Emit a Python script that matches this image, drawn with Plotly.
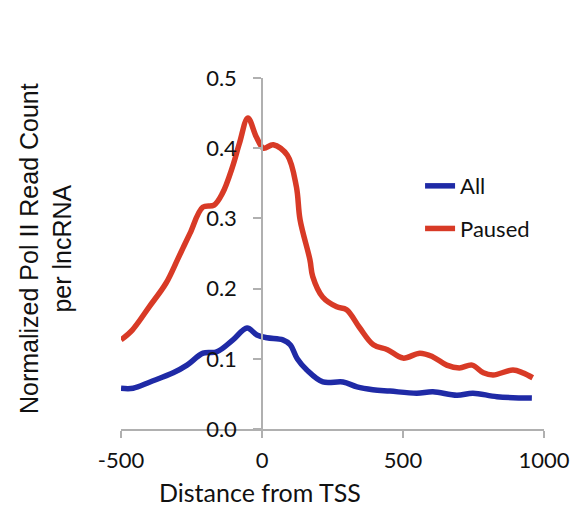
import plotly.graph_objects as go

dist_paused = [-500, -460, -400, -340, -300, -280, -255, -210, -170, -140, -105, -80, -50, -20, 5, 40, 90,
               122, 135, 170, 180, 215, 265, 300, 345, 395, 445, 500, 560, 605, 655, 700, 745,
               785, 820, 890, 925, 960]
paused = [0.127, 0.141, 0.174, 0.208, 0.241, 0.258, 0.279, 0.316, 0.319, 0.336, 0.373, 0.407, 0.443, 0.416,
          0.400, 0.405, 0.390, 0.345, 0.298, 0.241, 0.217, 0.188, 0.174, 0.170, 0.145, 0.120, 0.113,
          0.101, 0.108, 0.103, 0.091, 0.087, 0.091, 0.080, 0.077, 0.084, 0.080, 0.073]

dist_all = [-500, -457, -397, -315, -266, -209, -160, -103, -53, -18, 18, 74, 100, 125, 159, 216,
            287, 337, 393, 454, 549, 606, 691, 748, 833, 957]
all_vals = [0.058, 0.058, 0.067, 0.080, 0.091, 0.108, 0.110, 0.127, 0.144, 0.134, 0.130, 0.127, 0.120,
            0.100, 0.084, 0.067, 0.067, 0.060, 0.056, 0.054, 0.051, 0.053, 0.048, 0.051, 0.046, 0.044]

x_ticks = [-500, 0, 500, 1000]
y_ticks = [0.0, 0.1, 0.2, 0.3, 0.4, 0.5]

BLUE = "#1f2aa6"
RED = "#d83a26"
TICK_FONT = dict(family="Lato, Open Sans, sans-serif", size=22, color="#111111")
XTITLE_FONT = dict(family="Lato, Open Sans, sans-serif", size=25, color="#111111")
YTITLE_FONT = dict(family="Liberation Sans, Arial, sans-serif", size=25, color="#111111")

fig = go.Figure()
fig.add_trace(go.Scatter(x=dist_all, y=all_vals, mode="lines", name="All", legendgroup="a",
                         line=dict(color=BLUE, width=5.5, shape="spline", smoothing=1)))
fig.add_trace(go.Scatter(x=dist_paused, y=paused, mode="lines", name="Paused", legendgroup="b",
                         line=dict(color=RED, width=5.5, shape="spline", smoothing=1)))

fig.update_layout(
    width=587, height=506,
    paper_bgcolor="white", plot_bgcolor="white",
    margin=dict(l=121, r=43, t=78, b=77),
    showlegend=True,
    legend=dict(x=0.707, y=0.752, xanchor="left", yanchor="top", font=TICK_FONT,
                bgcolor="rgba(0,0,0,0)", tracegroupgap=11, itemwidth=30),
    xaxis=dict(range=[-500, 1000], tickvals=x_ticks, ticktext=[str(v) for v in x_ticks],
               showgrid=False, zeroline=False, showline=True, linecolor="#b0b0b0", linewidth=1.5,
               ticks="outside", ticklen=7, tickcolor="#b0b0b0", tickwidth=1.5,
               tickfont=TICK_FONT, anchor="y", ticklabelstandoff=4),
    yaxis=dict(range=[0, 0.5], tickvals=y_ticks, ticktext=["%.1f" % v for v in y_ticks],
               showgrid=False, zeroline=False, showline=True, linecolor="#b0b0b0", linewidth=1.5,
               ticks="outside", ticklen=8, tickcolor="#b0b0b0", tickwidth=1.5,
               tickfont=TICK_FONT, anchor="free", position=1/3, ticklabelstandoff=12),
)

fig.add_annotation(text="Distance from TSS", xref="paper", yref="paper", x=(260-121)/423,
                   y=(429-492)/351, xanchor="center", yanchor="middle", showarrow=False, font=XTITLE_FONT)
fig.add_annotation(text="Normalized Pol II Read Count<br>per lncRNA", xref="paper", yref="paper",
                   x=-(121-45)/423, y=(429-249)/351, xanchor="center", yanchor="middle",
                   textangle=-90, showarrow=False, font=YTITLE_FONT)

fig.write_html("out.html")
